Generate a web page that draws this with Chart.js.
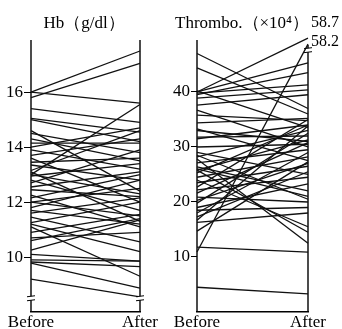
<!DOCTYPE html>
<html lang="en">
<head>
<meta charset="UTF-8">
<script src="https://cdn.jsdelivr.net/npm/chart.js"></script>
<title>Hb / Thrombo</title>
<style>
  body { margin: 0; background: #fff; }
  canvas { position: absolute; top: 0; }
  #hb { left: 0; }
  #pl { left: 171px; }
</style>
</head>
<body>
<canvas id="hb" width="171" height="329"></canvas>
<canvas id="pl" width="171" height="329"></canvas>
<script>
const xLabels = ['Before', 'After']

// Hb (g/dl), one entry per patient
const hbBefore = [16.0, 15.8, 16.0, 13.0, 15.4, 15.05, 15.0, 14.6, 14.5, 14.15, 14.0, 13.9, 13.7, 13.6, 13.45,
  13.35, 13.15, 13.1, 12.95, 12.8, 12.55, 12.45, 12.25, 12.15, 12.0, 12.0, 11.8, 11.7, 11.6, 11.45,
  11.25, 11.2, 11.1, 10.9, 10.7, 10.6, 10.25, 10.1, 9.9, 9.82, 9.78, 9.2, 13.0, 12.7, 14.3]
const hbAfter = [17.5, 17.05, 15.6, 15.55, 14.9, 14.55, 14.2, 12.4, 13.8, 14.15, 14.7, 13.2, 14.3, 12.0, 13.6,
  12.8, 14.6, 11.3, 13.4, 11.7, 13.1, 12.2, 11.1, 13.0, 12.5, 11.5, 12.8, 11.2, 12.15, 10.55,
  12.0, 10.2, 9.3, 11.55, 10.9, 11.4, 11.35, 9.85, 9.85, 9.65, 8.87, 8.55, 12.3, 13.9, 13.5]

// Thrombo (x10^4)
const plBefore = [47.0, 44.4, 40.0, 10.9, 40.0, 39.5, 39.8, 38.9, 40.2, 37.6, 36.7, 35.8, 34.4, 33.3, 31.8,
  31.5, 30.0, 29.0, 28.2, 27.8, 27.1, 26.4, 25.8, 25.8, 25.3, 24.5, 24.0, 23.5, 22.7, 22.2,
  21.6, 20.9, 20.3, 19.8, 19.0, 18.5, 18.0, 17.3, 16.7, 16.3, 14.7, 11.8, 4.5, 26.0, 28.5, 33.0]
const plAfter = [37.0, 36.0, 58.7, 58.2, 45.3, 43.5, 41.3, 40.4, 33.5, 39.5, 30.0, 34.8, 35.2, 27.5, 32.0,
  34.0, 30.5, 25.0, 33.0, 12.5, 29.5, 22.0, 31.3, 14.5, 34.0, 28.2, 15.5, 26.5, 35.0, 24.5,
  30.8, 20.0, 27.0, 32.5, 23.3, 19.0, 29.0, 25.5, 33.8, 18.0, 27.3, 10.9, 3.3, 21.0, 20.5, 31.0]

const hbTicks = [10, 12, 14, 16]
const plTicks = [10, 20, 30, 40]
const plTopLabels = ['58.7', '58.2']

const serif = '"Liberation Serif", "Times New Roman", serif'

// values above the axis break are squeezed in at the top
const plBreak = v => v > 50 ? 48.7 + (v - 58.2) * 2.2 : v

function lines(before, after, map) {
  return before.map((b, i) => ({
    data: [map(b), map(after[i])],
    borderColor: '#111',
    borderWidth: 1.3,
    pointRadius: 0,
    clip: false
  }))
}

function breakMark(ctx, x, y) {
  ctx.fillStyle = '#fff'
  ctx.fillRect(x - 2, y - 2, 4, 4)
  ctx.strokeStyle = '#000'
  ctx.lineWidth = 1
  ctx.beginPath()
  ctx.moveTo(x - 4, y - 1.5); ctx.lineTo(x + 4, y - 2.5)
  ctx.moveTo(x - 4, y + 2.5); ctx.lineTo(x + 4, y + 1.5)
  ctx.stroke()
}

const deco = {
  id: 'deco',
  beforeDatasetsDraw(chart, args, o) {
    const { ctx, chartArea: a } = chart
    ctx.save()
    ctx.strokeStyle = '#000'
    ctx.lineWidth = 1.4
    ctx.beginPath()
    ctx.moveTo(a.left, a.top); ctx.lineTo(a.left, a.bottom)
    ctx.moveTo(a.right, a.top + o.rightGap); ctx.lineTo(a.right, a.bottom)
    ctx.stroke()
    ctx.restore()
  },
  afterDraw(chart, args, o) {
    const { ctx, chartArea: a } = chart
    const y = chart.scales.y
    ctx.save()
    o.breaks.forEach(([side, v]) => breakMark(ctx, side ? a.right : a.left, y.getPixelForValue(v)))
    ctx.fillStyle = '#000'
    ctx.font = '17px ' + serif
    ctx.textAlign = o.titleAlign
    ctx.textBaseline = 'alphabetic'
    ctx.fillText(o.title, o.titleX, 28)
    ctx.textAlign = 'left'
    ctx.textBaseline = 'middle'
    ctx.font = '16px ' + serif
    ;(o.sideLabels || []).forEach((t, i) => ctx.fillText(t, a.right + 3, o.sideY[i]))
    ctx.restore()
  }
}

function makeChart(id, datasets, cfg) {
  return new Chart(document.getElementById(id), {
    type: 'line',
    data: { labels: xLabels, datasets },
    plugins: [deco],
    options: {
      responsive: false,
      animation: false,
      layout: { padding: { top: 40, right: cfg.padRight, left: 0, bottom: 0 } },
      plugins: {
        legend: { display: false },
        tooltip: { enabled: false },
        deco: cfg.deco
      },
      scales: {
        x: {
          offset: false,
          grid: { display: false, drawTicks: false },
          border: { display: true, color: '#000', width: 1.4 },
          ticks: { color: '#000', font: { family: serif, size: 17 }, padding: 0, maxRotation: 0, autoSkip: false },
          afterFit: s => { s.height = 17 }
        },
        y: {
          min: cfg.min,
          max: cfg.max,
          afterBuildTicks: s => { s.ticks = cfg.ticks.map(v => ({ value: v })) },
          grid: { drawOnChartArea: false, color: '#000', tickLength: cfg.tick, lineWidth: 1 },
          border: { display: false },
          ticks: { color: '#000', font: { family: serif, size: 17 }, padding: 1 },
          afterFit: s => { s.width = cfg.yWidth }
        }
      }
    }
  })
}

makeChart('hb', lines(hbBefore, hbAfter, v => v), {
  min: 8, max: 17.9, ticks: hbTicks, yWidth: 31, padRight: 31, tick: 7,
  deco: { rightGap: 0, breaks: [[0, 8.5], [1, 8.5]], title: 'Hb（g/dl）', titleX: 84, titleAlign: 'center' }
})

makeChart('pl', lines(plBefore, plAfter, plBreak), {
  min: 0, max: 49.45, ticks: plTicks, yWidth: 26, padRight: 34, tick: 6,
  deco: { rightGap: 5, breaks: [[1, 47.6]], title: 'Thrombo.（×10⁴）', titleX: 4, titleAlign: 'left',
    sideLabels: plTopLabels, sideY: [23, 42] }
})
</script>
</body>
</html>
